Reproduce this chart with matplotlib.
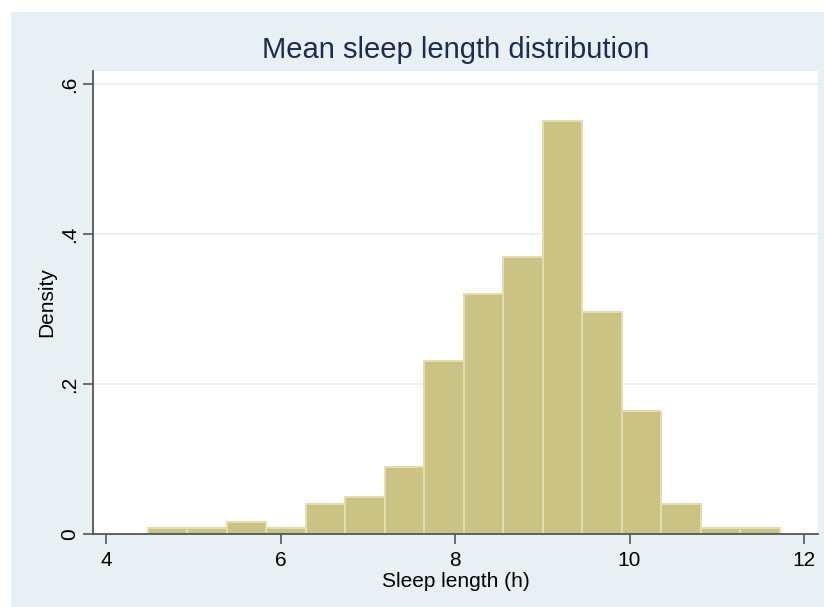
import numpy as np
import matplotlib
matplotlib.use("Agg")
import matplotlib.pyplot as plt
from matplotlib.patches import Rectangle

# Data
bin_start = 4.48
bin_width = 0.4525
densities = [0.008, 0.008, 0.016, 0.008, 0.040, 0.049, 0.089, 0.231,
             0.320, 0.369, 0.551, 0.296, 0.164, 0.040, 0.008, 0.008]
xticks = [4, 6, 8, 10, 12]
xticklabels = ["4", "6", "8", "10", "12"]
yticks = [0, 0.2, 0.4, 0.6]
yticklabels = ["0", ".2", ".4", ".6"]
title = "Mean sleep length distribution"
xlabel = "Sleep length (h)"
ylabel = "Density"

plt.rcParams['font.family'] = ['Liberation Sans', 'DejaVu Sans']

W, H = 824, 607
fig = plt.figure(figsize=(W / 100, H / 100), dpi=100)
fig.patch.set_facecolor("white")
bg = "#e9f0f3"
fig.patches.append(Rectangle((11 / W, 0), 1 - 11 / W, (H - 12) / H,
                             transform=fig.transFigure, facecolor=bg,
                             edgecolor="none", zorder=-10))

ax = fig.add_axes([93 / W, (H - 534) / H, (818 - 93) / W, (534 - 71) / H])
ax.set_facecolor("white")

lefts = bin_start + bin_width * np.arange(len(densities))
ax.bar(lefts, densities, width=bin_width, align="edge",
       facecolor="#cac383", edgecolor="#e3ddb0", linewidth=1.4, zorder=3)

ax.set_xlim(3.85, 12.16)
ax.set_ylim(0, 0.6173)
ax.set_xticks(xticks)
ax.set_xticklabels(xticklabels)
ax.set_yticks(yticks)
ax.set_yticklabels(yticklabels, rotation=90, va="center")

for y in yticks[1:]:
    ax.axhline(y, color="#e6eef1", linewidth=1.2, zorder=1)

for s in ["top", "right"]:
    ax.spines[s].set_visible(False)
for s in ["left", "bottom"]:
    ax.spines[s].set_color("#555555")
    ax.spines[s].set_linewidth(1.3)
    ax.spines[s].set_zorder(4)

ax.tick_params(axis="both", direction="out", length=7, width=1.2,
               color="#555555", labelsize=15, labelcolor="black")
ax.tick_params(axis="x", pad=5)
ax.tick_params(axis="y", pad=3)

ax.set_xlabel(xlabel, fontsize=15, labelpad=2)
ax.set_ylabel(ylabel, fontsize=15, labelpad=3)
fig.text((93 + 818) / 2 / W, 1 - 50 / H, title, ha="center", va="center",
         fontsize=21, color="#1c2b55")

fig.savefig("out.png", dpi=100)
